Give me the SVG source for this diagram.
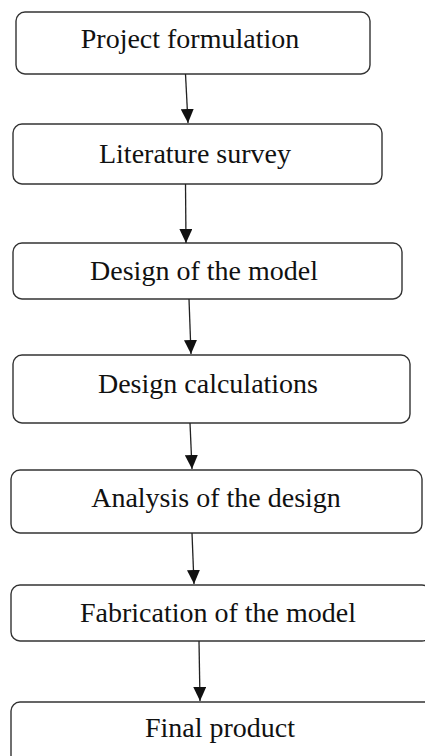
<svg xmlns="http://www.w3.org/2000/svg" width="425" height="756" viewBox="0 0 425 756">
<style>
.box{fill:#fff;stroke:#333;stroke-width:1.4}
.lbl{font-family:"Liberation Serif","Times New Roman",serif;font-size:28px;fill:#111;text-anchor:middle}
.conn{stroke:#222;stroke-width:1.3;fill:none}
</style>
<defs>
<marker id="ah" markerUnits="userSpaceOnUse" markerWidth="14" markerHeight="13" refX="14" refY="6.5" orient="auto">
<path d="M0,0 L14,6.5 L0,13 z" fill="#111"/>
</marker>
</defs>
<rect width="425" height="756" fill="#fff"/>
<g id="n1"><rect class="box" x="16" y="12" width="354" height="62" rx="9"/><text class="lbl" x="190" y="47.5">Project formulation</text></g>
<g id="n2"><rect class="box" x="13" y="124" width="369" height="60" rx="9"/><text class="lbl" x="195" y="162.5">Literature survey</text></g>
<g id="n3"><rect class="box" x="13" y="243" width="389" height="56" rx="9"/><text class="lbl" x="204" y="280">Design of the model</text></g>
<g id="n4"><rect class="box" x="13" y="355" width="397" height="68" rx="9"/><text class="lbl" x="208" y="393">Design calculations</text></g>
<g id="n5"><rect class="box" x="11" y="470" width="411" height="63" rx="9"/><text class="lbl" x="216" y="506.5">Analysis of the design</text></g>
<g id="n6"><rect class="box" x="11" y="585" width="420" height="56" rx="9"/><text class="lbl" x="218" y="622">Fabrication of the model</text></g>
<g id="n7"><rect class="box" x="11" y="702" width="425" height="70" rx="9"/><text class="lbl" x="220" y="736.5">Final product</text></g>
<g id="connectors">
<line class="conn" x1="185.5" y1="74" x2="188" y2="123" marker-end="url(#ah)"/>
<line class="conn" x1="185.5" y1="184" x2="186" y2="243" marker-end="url(#ah)"/>
<line class="conn" x1="189" y1="299" x2="191" y2="354" marker-end="url(#ah)"/>
<line class="conn" x1="190" y1="423" x2="192" y2="469" marker-end="url(#ah)"/>
<line class="conn" x1="192" y1="533" x2="194" y2="584" marker-end="url(#ah)"/>
<line class="conn" x1="199" y1="641" x2="200" y2="701" marker-end="url(#ah)"/>
</g>
</svg>
